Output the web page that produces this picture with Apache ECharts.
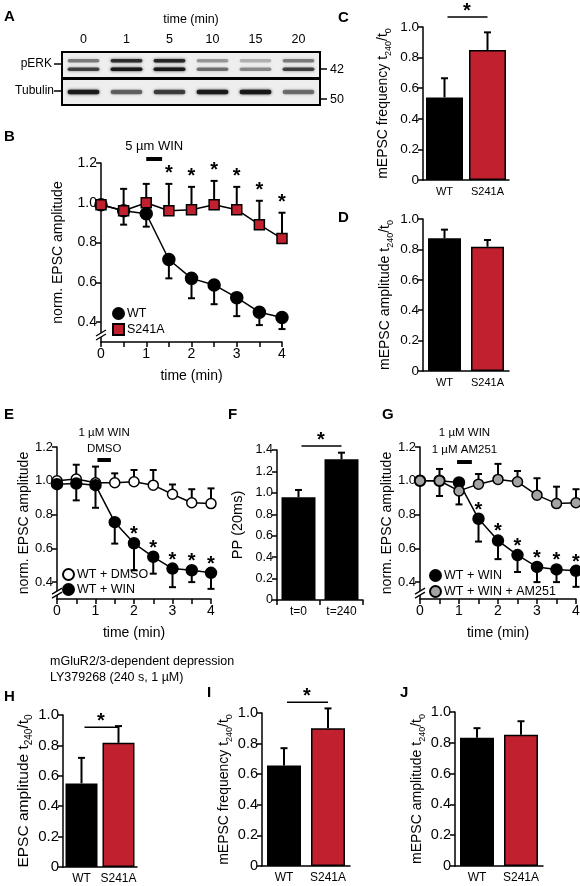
<!DOCTYPE html>
<html>
<head>
<meta charset="utf-8">
<script src="https://cdn.jsdelivr.net/npm/echarts@6.0.0/dist/echarts.min.js"></script>
<style>
html,body{margin:0;padding:0;background:#fff;}
#chart{width:580px;height:886px;}
</style>
</head>
<body>
<div id="chart"></div>
<script>
// ---------------- DATA ----------------
// Panel A: western blot band intensities (0..1) per lane
const laneLabels = ['0', '1', '5', '10', '15', '20'];
const pERKUpper = [0.45, 0.8, 0.85, 0.35, 0.25, 0.45];
const pERKLower = [0.7, 0.95, 0.95, 0.5, 0.4, 0.7];
const tubulinBand = [0.9, 0.55, 0.7, 0.9, 0.95, 0.5];

// Time-course panels (B, E, G)
const timePoints = [0, 0.5, 1, 1.5, 2, 2.5, 3, 3.5, 4];
const timeTickLabels = [0, 1, 2, 3, 4];
const ampTickValues = [0.4, 0.6, 0.8, 1.0, 1.2];

// Panel B
const bWT = [0.99, 0.96, 0.945, 0.715, 0.62, 0.587, 0.523, 0.45, 0.423];
const bWTsem = [0, 0.07, 0.065, 0.095, 0.10, 0.097, 0.093, 0.065, 0.058];
const bS241A = [0.99, 0.96, 1.00, 0.96, 0.965, 0.99, 0.965, 0.89, 0.82];
const bS241Asem = [0, 0.11, 0.095, 0.135, 0.115, 0.12, 0.115, 0.12, 0.13];
const bSignificant = [0, 0, 0, 1, 1, 1, 1, 1, 1];

// Panel E
const eDMSO = [1.0, 1.01, 0.988, 0.988, 0.994, 0.974, 0.92, 0.87, 0.865];
const eDMSOsem = [0, 0.085, 0.096, 0.056, 0.07, 0.09, 0.058, 0.08, 0.09];
const eWIN = [0.98, 0.984, 0.974, 0.755, 0.63, 0.55, 0.48, 0.47, 0.455];
const eWINsem = [0, 0.10, 0.134, 0.127, 0.16, 0.10, 0.11, 0.07, 0.095];
const eSignificant = [0, 0, 0, 0, 1, 1, 1, 1, 1];

// Panel G
const gWIN = [1.0, 1.0, 0.99, 0.775, 0.646, 0.56, 0.49, 0.475, 0.467];
const gWINsem = [0, 0.09, 0.13, 0.135, 0.11, 0.10, 0.09, 0.075, 0.095];
const gAM251 = [1.0, 1.0, 0.94, 0.98, 1.008, 0.994, 0.915, 0.865, 0.87];
const gAM251sem = [0, 0.07, 0, 0.06, 0.092, 0.064, 0.10, 0.10, 0.08];
const gSignificant = [0, 0, 0, 1, 1, 1, 1, 1, 1];

// Bar panels
const genotypes = ['WT', 'S241A'];
const cFreq = [0.54, 0.85];   const cFreqSem = [0.125, 0.115];
const dAmp = [0.873, 0.818];  const dAmpSem = [0.057, 0.044];
const fTimes = ['t=0', 't=240'];
const fPP = [0.959, 1.313];   const fPPsem = [0.068, 0.062];
const hAmp = [0.55, 0.817];   const hAmpSem = [0.168, 0.11];
const iFreq = [0.657, 0.90];  const iFreqSem = [0.113, 0.13];
const jAmp = [0.833, 0.852];  const jAmpSem = [0.062, 0.088];

// ---------------- STYLE ----------------
const FONT = '"Liberation Sans", Arial, sans-serif';
const RED = '#c1202f';
const GRAY = '#a3a3a3';
const genoColors = ['#000000', RED];
const AXLINE = {show: true, onZero: false, lineStyle: {color: '#000', width: 1.5}};
const TICK = {color: '#000', width: 1.5};

function lbl(fs, extra) {
  return Object.assign({color: '#000', fontFamily: FONT, fontSize: fs}, extra || {});
}
function richName(fs, sfs) {
  return {
    color: '#000',
    rich: {
      m: {fontSize: fs, fontFamily: FONT, color: '#000', lineHeight: fs + 6, verticalAlign: 'middle'},
      s: {fontSize: sfs, fontFamily: FONT, color: '#000', lineHeight: sfs + 1, verticalAlign: 'bottom'}
    }
  };
}

const grids = [
  {left: 62, top: 52, width: 258, height: 26},   // 0 A pERK
  {left: 62, top: 79, width: 258, height: 26},   // 1 A tubulin
  {left: 101, top: 163, width: 181, height: 179},// 2 B
  {left: 423, top: 27, width: 86, height: 153},  // 3 C
  {left: 423, top: 219, width: 86, height: 152}, // 4 D
  {left: 57, top: 447, width: 154, height: 152}, // 5 E
  {left: 277, top: 450, width: 86, height: 150}, // 6 F
  {left: 420, top: 447, width: 156, height: 152},// 7 G
  {left: 63, top: 715, width: 74, height: 152},  // 8 H
  {left: 262, top: 713, width: 88, height: 153}, // 9 I
  {left: 455, top: 712, width: 88, height: 154}  // 10 J
];

function timeXAxis(gi) {
  return {
    type: 'value', gridIndex: gi, min: 0, max: 4, interval: 0.5,
    axisLine: AXLINE, axisTick: {show: true, length: 5, lineStyle: TICK},
    axisLabel: lbl(14, {margin: 5, customValues: timeTickLabels, formatter: v => String(v)}),
    splitLine: {show: false},
    name: 'time (min)', nameLocation: 'middle', nameGap: 27, nameTextStyle: lbl(14)
  };
}
function ampYAxis(gi, fs, gap) {
  return {
    type: 'value', gridIndex: gi, min: 0.3, max: 1.2,
    axisLine: AXLINE,
    axisTick: {show: true, length: 5, lineStyle: TICK, customValues: ampTickValues},
    axisLabel: lbl(fs, {margin: 4, customValues: ampTickValues, formatter: v => v.toFixed(1)}),
    splitLine: {show: false},
    name: 'norm. EPSC amplitude', nameLocation: 'middle', nameRotate: 90, nameGap: gap,
    nameTextStyle: lbl(14)
  };
}
function catXAxis(gi, cats, fs, ticks) {
  return {
    type: 'category', gridIndex: gi, data: cats,
    axisLine: AXLINE, axisTick: {show: !!ticks, length: 5, lineStyle: TICK},
    axisLabel: lbl(fs, {margin: 6, interval: 0, hideOverlap: false}), splitLine: {show: false}
  };
}
function barYAxis(gi, max, fs, name, gap, nameStyle) {
  return {
    type: 'value', gridIndex: gi, min: 0, max: max, interval: 0.2,
    axisLine: AXLINE, axisTick: {show: true, length: 5, lineStyle: TICK},
    axisLabel: lbl(fs, {margin: 4, formatter: v => (Math.abs(v) < 1e-9 ? '0' : v.toFixed(1))}),
    splitLine: {show: false},
    name: name, nameLocation: 'middle', nameRotate: 90, nameGap: gap, nameTextStyle: nameStyle
  };
}

// ---------------- SERIES BUILDERS ----------------
function errSeries(gi, xs, means, sems, dir, color, z) {
  return {
    type: 'custom', xAxisIndex: gi, yAxisIndex: gi, z: z, silent: true, clip: false,
    encode: {x: 0, y: [1, 2]},
    data: xs.map((x, i) => [x, means[i], means[i] + dir * sems[i]]),
    renderItem: function (params, api) {
      const x = api.value(0), y0 = api.value(1), y1 = api.value(2);
      if (Math.abs(y1 - y0) < 1e-9) return null;
      const p0 = api.coord([x, y0]), p1 = api.coord([x, y1]);
      return {
        type: 'group', children: [
          {type: 'line', shape: {x1: p0[0], y1: p0[1], x2: p1[0], y2: p1[1]}, style: {stroke: color, lineWidth: 2}},
          {type: 'line', shape: {x1: p1[0] - 3.5, y1: p1[1], x2: p1[0] + 3.5, y2: p1[1]}, style: {stroke: color, lineWidth: 2}}
        ]
      };
    }
  };
}
function lineSeries(gi, name, xs, ys, symbol, size, fill, z) {
  return {
    type: 'line', name: name, xAxisIndex: gi, yAxisIndex: gi, z: z,
    data: xs.map((x, i) => [x, ys[i]]),
    symbol: symbol, symbolSize: size, showSymbol: true,
    lineStyle: {color: '#000', width: 1.5},
    itemStyle: {color: fill, borderColor: '#000', borderWidth: 1.5},
    emphasis: {disabled: true}, silent: true
  };
}
function starSeries(gi, xs, base, sig, offset) {
  const data = [];
  xs.forEach((x, i) => { if (sig[i]) data.push([x, base[i]]); });
  return {
    type: 'custom', xAxisIndex: gi, yAxisIndex: gi, z: 6, silent: true, clip: false,
    encode: {x: 0, y: 1}, data: data,
    renderItem: function (params, api) {
      const p = api.coord([api.value(0), api.value(1)]);
      return {type: 'text', style: {text: '*', x: p[0], y: p[1] - offset + 4.4, align: 'center', verticalAlign: 'middle',
        font: 'bold 20px ' + FONT, fill: '#000'}};
    }
  };
}
function drugSeries(gi, start, end, level, lines, offsets, fs) {
  return {
    type: 'custom', xAxisIndex: gi, yAxisIndex: gi, z: 6, silent: true, clip: false,
    encode: {x: [0, 1], y: 2}, data: [[start, end, level]],
    renderItem: function (params, api) {
      const a = api.coord([api.value(0), api.value(2)]), b = api.coord([api.value(1), api.value(2)]);
      const cx = (a[0] + b[0]) / 2;
      const ch = [{type: 'line', shape: {x1: a[0], y1: a[1], x2: b[0], y2: b[1]}, style: {stroke: '#000', lineWidth: 4}}];
      lines.forEach((t, k) => ch.push({type: 'text', style: {text: t, x: cx, y: a[1] - offsets[k], align: 'center',
        verticalAlign: 'middle', font: fs + 'px ' + FONT, fill: '#000'}}));
      return {type: 'group', children: ch};
    }
  };
}
function barSeries(gi, vals, colors, bw) {
  return {
    type: 'bar', xAxisIndex: gi, yAxisIndex: gi, barWidth: bw, z: 2, silent: true,
    data: vals.map((v, i) => ({value: v, itemStyle: {color: colors[i]}})),
    itemStyle: {borderColor: '#000', borderWidth: 1.5}
  };
}
function sigSeries(gi, level) {
  return {
    type: 'custom', xAxisIndex: gi, yAxisIndex: gi, z: 6, silent: true, clip: false,
    encode: {x: 0, y: 2}, data: [[0, 1, level]],
    renderItem: function (params, api) {
      const a = api.coord([0, api.value(2)]), b = api.coord([1, api.value(2)]);
      return {
        type: 'group', children: [
          {type: 'line', shape: {x1: a[0] + 3, y1: a[1], x2: b[0], y2: b[1]}, style: {stroke: '#000', lineWidth: 1.5}},
          {type: 'text', style: {text: '*', x: (a[0] + b[0]) / 2 + 1, y: a[1] - 10 + 4.4, align: 'center', verticalAlign: 'middle',
            font: 'bold 20px ' + FONT, fill: '#000'}}
        ]
      };
    }
  };
}
function blotSeries(gi, rowsData, h) {
  const data = [];
  rowsData.forEach(r => r.vals.forEach((v, lane) => data.push([lane, r.row, v])));
  return {
    type: 'custom', xAxisIndex: gi, yAxisIndex: gi, z: 3, silent: true,
    encode: {x: 0, y: 1}, data: data,
    renderItem: function (params, api) {
      const c = api.coord([api.value(0), api.value(1)]);
      const w = api.size([1, 0])[0] * 0.74;
      const a = api.value(2);
      const col = 'rgba(20,20,20,' + a.toFixed(2) + ')';
      return {type: 'rect', shape: {x: c[0] - w / 2, y: c[1] - h / 2, width: w, height: h, r: h / 2},
        style: {fill: col, shadowBlur: 3, shadowColor: col}};
    }
  };
}

// ---------------- OPTION ----------------
const xAxes = [
  {type: 'category', gridIndex: 0, data: laneLabels, position: 'top',
   axisLine: {show: false}, axisTick: {show: false}, axisLabel: lbl(12.5, {margin: 6}),
   name: 'time (min)', nameLocation: 'middle', nameGap: 26, nameTextStyle: lbl(12.5)},
  {type: 'category', gridIndex: 1, data: laneLabels, show: false},
  timeXAxis(2),
  catXAxis(3, genotypes, 11),
  catXAxis(4, genotypes, 11),
  timeXAxis(5),
  catXAxis(6, fTimes, 12, true),
  timeXAxis(7),
  catXAxis(8, genotypes, 12),
  catXAxis(9, genotypes, 12),
  catXAxis(10, genotypes, 12)
];
const yAxes = [
  {type: 'value', gridIndex: 0, min: 0, max: 3, inverse: true, show: false},
  {type: 'value', gridIndex: 1, min: 0, max: 2, inverse: true, show: false},
  ampYAxis(2, 14, 36),
  barYAxis(3, 1.0, 13.5, '{m|mEPSC frequency t}{s|240}{m|/t}{s|0}', 30, richName(14, 9)),
  barYAxis(4, 1.0, 13.5, '{m|mEPSC amplitude t}{s|240}{m|/t}{s|0}', 28, richName(14, 9)),
  ampYAxis(5, 13, 22),
  barYAxis(6, 1.4, 12.5, 'PP (20ms)', 32, lbl(14.5)),
  ampYAxis(7, 13, 20),
  barYAxis(8, 1.0, 15, '{m|EPSC amplitude t}{s|240}{m|/t}{s|0}', 24, richName(15.5, 10)),
  barYAxis(9, 1.0, 14.5, '{m|mEPSC frequency t}{s|240}{m|/t}{s|0}', 24, richName(14, 9)),
  barYAxis(10, 1.0, 14.5, '{m|mEPSC amplitude t}{s|240}{m|/t}{s|0}', 27, richName(14, 9))
];

const series = [
  // A
  blotSeries(0, [{row: 1, vals: pERKUpper}, {row: 2, vals: pERKLower}], 3.5),
  blotSeries(1, [{row: 1, vals: tubulinBand}], 4.5),
  // B
  errSeries(2, timePoints, bWT, bWTsem, -1, '#000', 2),
  errSeries(2, timePoints, bS241A, bS241Asem, 1, '#000', 2),
  lineSeries(2, 'WT', timePoints, bWT, 'circle', 12, '#000', 3),
  lineSeries(2, 'S241A', timePoints, bS241A, 'rect', 10, RED, 4),
  starSeries(2, timePoints, bS241A.map((v, i) => v + bS241Asem[i]), bSignificant, 15),
  drugSeries(2, 1.0, 1.35, 1.22, ['5 \u00b5m WIN'], [13], 13),
  // C
  barSeries(3, cFreq, genoColors, 37),
  errSeries(3, [0, 1], cFreq, cFreqSem, 1, '#000', 3),
  sigSeries(3, 1.065),
  // D
  barSeries(4, dAmp, genoColors, 33),
  errSeries(4, [0, 1], dAmp, dAmpSem, 1, '#000', 3),
  // E
  errSeries(5, timePoints, eDMSO, eDMSOsem, 1, '#000', 2),
  errSeries(5, timePoints, eWIN, eWINsem, -1, '#000', 2),
  lineSeries(5, 'WT + DMSO', timePoints, eDMSO, 'circle', 10, '#fff', 3),
  lineSeries(5, 'WT + WIN', timePoints, eWIN, 'circle', 11, '#000', 4),
  starSeries(5, timePoints, eWIN, eSignificant, 13),
  drugSeries(5, 1.05, 1.4, 1.123, ['DMSO', '1 \u00b5M WIN'], [11, 27], 11.5),
  // F
  barSeries(6, fPP, ['#000', '#000'], 34),
  errSeries(6, [0, 1], fPP, fPPsem, 1, '#000', 3),
  sigSeries(6, 1.437),
  // G
  errSeries(7, timePoints, gWIN, gWINsem, -1, '#000', 2),
  errSeries(7, timePoints, gAM251, gAM251sem, 1, '#000', 2),
  lineSeries(7, 'WT + WIN', timePoints, gWIN, 'circle', 11, '#000', 3),
  lineSeries(7, 'WT + WIN + AM251', timePoints, gAM251, 'circle', 10, GRAY, 4),
  starSeries(7, timePoints, gWIN, gSignificant, 13),
  drugSeries(7, 0.95, 1.33, 1.111, ['1 \u00b5M AM251', '1 \u00b5M WIN'], [12, 29], 11.5),
  // H
  barSeries(8, hAmp, genoColors, 32),
  errSeries(8, [0, 1], hAmp, hAmpSem, 1, '#000', 3),
  sigSeries(8, 0.92),
  // I
  barSeries(9, iFreq, genoColors, 34),
  errSeries(9, [0, 1], iFreq, iFreqSem, 1, '#000', 3),
  sigSeries(9, 1.07),
  // J
  barSeries(10, jAmp, genoColors, 34),
  errSeries(10, [0, 1], jAmp, jAmpSem, 1, '#000', 3)
];

function legendCfg(left, top, items, gap) {
  return {
    left: left, top: top, orient: 'vertical', padding: 0, itemGap: gap, itemWidth: 11, itemHeight: 11,
    selectedMode: false, data: items,
    textStyle: {color: '#000', fontFamily: FONT, fontSize: 12.5, padding: [0, 0, 0, -2]}
  };
}

function letter(t, x, y) {
  return {type: 'text', x: x, y: y, style: {text: t, font: 'bold 15px ' + FONT, fill: '#000', verticalAlign: 'middle'}};
}
function txt(t, x, y, fs, align) {
  return {type: 'text', x: x, y: y, style: {text: t, font: fs + 'px ' + FONT, fill: '#000', align: align || 'left', verticalAlign: 'middle'}};
}
function seg(x1, y1, x2, y2, w) {
  return {type: 'line', shape: {x1: x1, y1: y1, x2: x2, y2: y2}, style: {stroke: '#000', lineWidth: w || 1.5}};
}

const graphics = [
  letter('A', 4, 17), letter('B', 4, 137), letter('C', 338, 18), letter('D', 338, 218),
  letter('E', 4, 415), letter('F', 228, 415), letter('G', 382, 415),
  letter('H', 4, 697), letter('I', 207, 693), letter('J', 400, 693),
  txt('pERK', 52, 64, 12, 'right'), seg(54, 64, 62, 64),
  txt('Tubulin', 54, 91, 12, 'right'), seg(54, 91, 62, 91),
  seg(320, 69, 327, 69), txt('42', 330, 70, 12.5),
  seg(320, 99, 327, 99), txt('50', 330, 100, 12.5),
  txt('mGluR2/3-dependent depression', 50, 662, 12.5),
  txt('LY379268 (240 s, 1 \u00b5M)', 50, 678, 12.5)
];

const option = {
  animation: false,
  backgroundColor: '#fff',
  textStyle: {fontFamily: FONT},
  grid: grids.map((g, i) => Object.assign({
    show: i < 2, borderColor: '#000', borderWidth: 2,
    backgroundColor: i < 2 ? '#eeeeee' : 'transparent',
    containLabel: false, outerBoundsMode: 'none'
  }, g)),
  xAxis: xAxes,
  yAxis: yAxes,
  legend: [
    legendCfg(112, 307, [{name: 'WT', icon: 'circle'}, {name: 'S241A', icon: 'rect'}], 3),
    legendCfg(62, 568, [{name: 'WT + DMSO', icon: 'circle'}, {name: 'WT + WIN', icon: 'circle'}], 2),
    legendCfg(429, 569, [{name: 'WT + WIN', icon: 'circle'}, {name: 'WT + WIN + AM251', icon: 'circle'}], 3)
  ],
  series: series,
  graphic: graphics
};

const chart = echarts.init(document.getElementById('chart'), null, {renderer: 'canvas'});
chart.setOption(option);

// axis-break marks on the time-course y axes
const breaks = [];
[2, 5, 7].forEach(gi => {
  const p = chart.convertToPixel({gridIndex: gi}, [0, 0.335]);
  const x = p[0], y = p[1];
  breaks.push({type: 'polygon', shape: {points: [[x - 5, y + 1], [x + 5, y - 5], [x + 5, y - 1], [x - 5, y + 5]]},
    style: {fill: '#fff'}, z: 100});
  breaks.push(Object.assign(seg(x - 5, y + 1, x + 5, y - 5, 1.3), {z: 101}));
  breaks.push(Object.assign(seg(x - 5, y + 5, x + 5, y - 1, 1.3), {z: 101}));
});
chart.setOption({graphic: graphics.concat(breaks)});
</script>
</body>
</html>
